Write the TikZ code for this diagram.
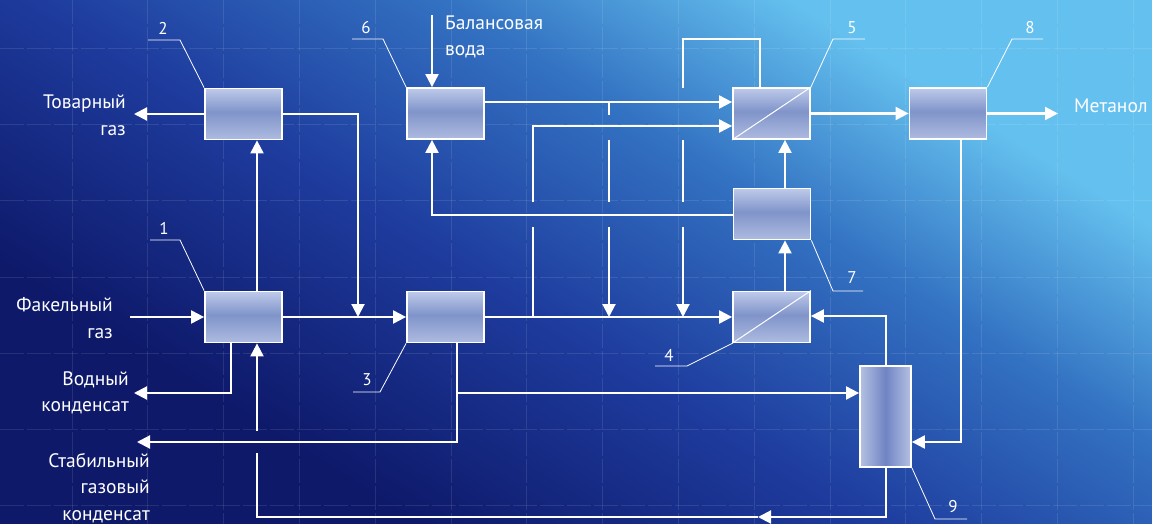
\documentclass[tikz,border=0pt]{standalone}
\usepackage{fontspec}
\setmainfont{PT Sans}
\usetikzlibrary{arrows.meta,calc}

\definecolor{bgA}{HTML}{0E196A}
\definecolor{bgB}{HTML}{1E3C9E}
\definecolor{bgC}{HTML}{3372C2}
\definecolor{bgD}{HTML}{64C0EE}
\definecolor{boxLt}{HTML}{BECAEA}
\definecolor{boxLb}{HTML}{AEBBE0}
\definecolor{boxDk}{HTML}{8094CA}
\definecolor{colLt}{HTML}{B4C1E2}
\definecolor{colDk}{HTML}{7084C4}

% background: dark lower left to light upper right
\pgfdeclarehorizontalshading{bgsh}{100bp}{color(0bp)=(bgA); color(30bp)=(bgA);
  color(46bp)=(bgB); color(60bp)=(bgC); color(72bp)=(bgD); color(100bp)=(bgD)}
% unit boxes: light top and bottom, darker band in the middle
\pgfdeclareverticalshading{boxv}{100bp}{color(0bp)=(boxLb); color(25bp)=(boxLb);
  color(52bp)=(boxDk); color(75bp)=(boxLt); color(100bp)=(boxLt)}
% column: light sides, darker band in the middle
\pgfdeclarehorizontalshading{colh}{100bp}{color(0bp)=(colLt); color(25bp)=(colLt);
  color(50bp)=(colDk); color(75bp)=(colLt); color(100bp)=(colLt)}

\begin{document}
\begin{tikzpicture}[x=1pt,y=-1pt,
  unit/.style={draw=white, line width=1.8pt, shade, shading=boxv,
    minimum width=77pt, minimum height=51pt, inner sep=0pt},
  column/.style={draw=white, line width=1.8pt, shade, shading=colh,
    minimum width=51pt, minimum height=101pt, inner sep=0pt},
  flow/.style={draw=white, line width=2.1pt, -{Triangle[length=13pt,width=13pt]}},
  pipe/.style={draw=white, line width=2.1pt},
  leader/.style={draw=white, line width=0.8pt},
  diag/.style={draw=white, line width=1pt},
  tag/.style={text=white, font=\fontsize{17}{17}\selectfont, inner sep=0pt},
  lbl/.style={text=white, font=\fontsize{19.5}{26.5}\selectfont, inner sep=0pt},
  gridline/.style={draw=white, opacity=0.1, line width=0.8pt, dash pattern=on 24pt off 3pt}]

\useasboundingbox (0,0) rectangle (1152,524);
\shade[shading=bgsh, shading angle=58] (0,0) rectangle (1152,524);

% faint drafting grid
\foreach \k in {0,...,14} \draw[gridline] ({72+75.8*\k},0) -- ++(0,524);
\foreach \k in {0,...,6} \draw[gridline] (0,{48+76.3*\k}) -- ++(1152,0);

% units
\node[unit] (b1) at (243.5,317) {};
\node[unit] (b2) at (243.5,114) {};
\node[unit] (b3) at (445.5,317) {};
\node[unit] (b4) at (771.5,317) {};
\node[unit] (b5) at (771.5,113.5) {};
\node[unit] (b6) at (445.5,113.5) {};
\node[unit] (b7) at (772,214) {};
\node[unit] (b8) at (948,113.5) {};
\node[column] (b9) at (885.5,416.5) {};
\draw[diag] (b4.south west) -- (b4.north east);
\draw[diag] (b5.south west) -- (b5.north east);

% guide coordinates
\coordinate (x231) at (231,0);
\coordinate (x257) at (257,0);
\coordinate (x432) at (432,0);
\coordinate (x457) at (457,0);
\coordinate (x760) at (760,0);
\coordinate (x785) at (785,0);
\coordinate (x886) at (886,0);
\coordinate (x961) at (961,0);
\coordinate (y102) at (0,102);
\coordinate (y126) at (0,126);
\coordinate (y215) at (0,215);
\coordinate (y316) at (0,316);
\coordinate (y442) at (0,442);

% flare gas inlet and outlets on the left
\coordinate (inFak) at (130,317);
\coordinate (outTov) at (134,114);
\coordinate (outVod) at (134,393);
\coordinate (outStab) at (137,442);
\draw[flow] (inFak) -- (b1.west);
\draw[flow] (b2.west) -- (outTov);
\draw[flow] (b1.north -| x257) -- (b2.south -| x257);
\draw[flow] (b1.south -| x231) |- (outVod);
\draw[flow] (b3.south -| x457) |- (outStab);

\node[lbl, align=right, anchor=east] (tTov) at (126,115) {Товарный\\газ};
\node[lbl, align=right, anchor=east] (tFak) at (113,318) {Факельный\\газ};
\node[lbl, align=right, anchor=east] (tVod) at (129,393) {Водный\\конденсат};
\node[lbl, align=right, anchor=east] (tStab) at (150,488) {Стабильный\\газовый\\конденсат};

% unit 2 to the feed line of unit 3
\coordinate (mix) at (358,317);
\draw[flow] (b2.east) -| (mix);
\draw[flow] (b1.east) -- (b3.west);
\draw[flow] (b3.east) -- (b4.west);

% branch to column 9
\coordinate (br9) at (457,393);
\draw[flow] (br9) -- (br9 -| b9.west);

% return from column 9 back to unit 1 (broken where it crosses)
\coordinate (retMid) at (758,517);
\coordinate (retLo) at (257,453);
\coordinate (retHi) at (257,431);
\draw[flow] (b9.south -| x886) |- (retMid);
\draw[pipe] (retMid) -| (retLo);
\draw[flow] (retHi) -- (b1.south -| x257);

% unit 6 and balance water
\coordinate (inBal) at (432,15);
\draw[flow] (inBal) -- (b6.north -| x432);
\node[lbl, align=left, anchor=west] (tBal) at (445,37) {Балансовая\\вода};
\draw[flow] (b6.east |- y102) -- (b5.west |- y102);
\draw[flow] (b7.west |- y215) -| (b6.south -| x432);

% riser at x=533 into unit 5
\coordinate (p533a) at (533,317);
\coordinate (p533b) at (533,227);
\coordinate (p533c) at (533,202);
\draw[pipe] (p533a) -- (p533b);
\draw[flow] (p533c) |- (b5.west |- y126);

% bypass at x=609
\coordinate (p609a) at (609,102);
\coordinate (p609b) at (609,115);
\coordinate (p609c) at (609,140);
\coordinate (p609d) at (609,202);
\coordinate (p609e) at (609,227);
\coordinate (p609f) at (609,317);
\draw[pipe] (p609a) -- (p609b);
\draw[pipe] (p609c) -- (p609d);
\draw[flow] (p609e) -- (p609f);

% line from the top of unit 5 down at x=683
\coordinate (p683t) at (683,39);
\coordinate (p683a) at (683,88);
\coordinate (p683b) at (683,140);
\coordinate (p683c) at (683,202);
\coordinate (p683d) at (683,227);
\coordinate (p683e) at (683,317);
\draw[pipe] (b5.north -| x760) |- (p683t) -- (p683a);
\draw[pipe] (p683b) -- (p683c);
\draw[flow] (p683d) -- (p683e);

% units 4, 7, 5
\draw[flow] (b4.north -| x785) -- (b7.south -| x785);
\draw[flow] (b7.north -| x785) -- (b5.south -| x785);

% methanol
\coordinate (outMet) at (1058,113.5);
\draw[flow] (b5.east) -- (b8.west);
\draw[flow] (b8.east) -- (outMet);
\node[lbl, anchor=west] (tMet) at (1074,106) {Метанол};
\draw[flow] (b8.south -| x961) |- (b9.east |- y442);
\draw[flow] (b9.north -| x886) |- (b4.east |- y316);

% reference numbers with leaders
\node[tag] (n2) at (163,28) {2};
\coordinate (l2a) at (148,40); \coordinate (l2b) at (180,40);
\draw[leader] (l2a) -- (l2b) -- (b2.north west);
\node[tag] (n6) at (366,28) {6};
\coordinate (l6a) at (352,39); \coordinate (l6b) at (383,39);
\draw[leader] (l6a) -- (l6b) -- (b6.north west);
\node[tag] (n5) at (852,28) {5};
\coordinate (l5a) at (865,39); \coordinate (l5b) at (833,39);
\draw[leader] (l5a) -- (l5b) -- (b5.north east);
\node[tag] (n8) at (1030,28) {8};
\coordinate (l8a) at (1043,39); \coordinate (l8b) at (1012,39);
\draw[leader] (l8a) -- (l8b) -- (b8.north east);
\node[tag] (n1) at (164,228) {1};
\coordinate (l1a) at (150,240); \coordinate (l1b) at (180,240);
\draw[leader] (l1a) -- (l1b) -- (b1.north west);
\node[tag] (n3) at (367,380) {3};
\coordinate (l3a) at (353,392); \coordinate (l3b) at (380,392);
\draw[leader] (l3a) -- (l3b) -- (b3.south west);
\node[tag] (n4) at (669,355) {4};
\coordinate (l4a) at (655,366); \coordinate (l4b) at (687,366);
\draw[leader] (l4a) -- (l4b) -- (b4.south west);
\node[tag] (n7) at (852,278) {7};
\coordinate (l7a) at (863,291); \coordinate (l7b) at (833,291);
\draw[leader] (l7a) -- (l7b) -- (b7.south east);
\node[tag] (n9) at (953,507) {9};
\coordinate (l9a) at (967,519); \coordinate (l9b) at (935,519);
\draw[leader] (l9a) -- (l9b) -- (b9.south east);
\end{tikzpicture}
\end{document}
